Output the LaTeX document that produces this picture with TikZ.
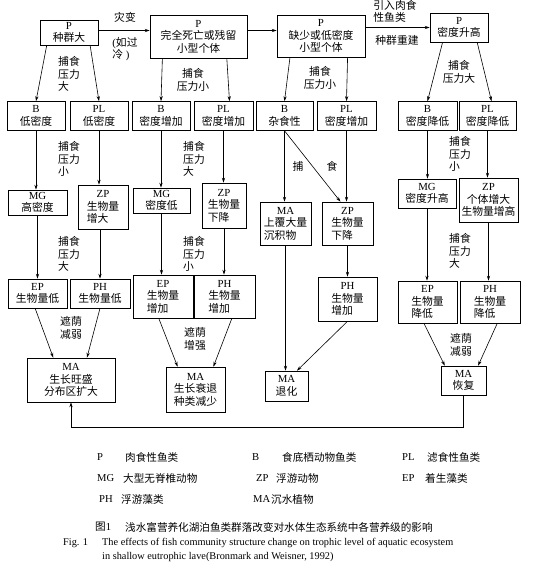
\documentclass[tikz,border=0pt]{standalone}
\usepackage{fontspec}
\setmainfont{Liberation Serif}
\newfontfamily\cjk{Noto Sans CJK SC}
\usetikzlibrary{arrows.meta,positioning,calc}
\newcommand{\zh}[1]{{\cjk #1}}

\begin{document}
\begin{tikzpicture}[
    x=1pt, y=-1pt,
    box/.style={draw, line width=0.6pt, align=center, inner sep=1pt, minimum width=58pt, minimum height=29pt, font=\fontsize{10.8}{12.5}\selectfont},
    lab/.style={align=left, inner sep=0pt, font=\fontsize{10.8}{12.5}\selectfont},
    keytext/.style={anchor=west, inner sep=0pt, font=\fontsize{10.6}{12.5}\selectfont},
    arrow/.style={-{Stealth[length=5pt,width=3.2pt]}, line width=0.6pt}
]
\useasboundingbox (0,0) rectangle (535,565);

\node[box, minimum height=25pt] (pa) at (69,32.5) {P\\\zh{种群大}};
\node[box, minimum width=97pt, minimum height=43pt] (pb) at (198.5,36.5) {P\\\zh{完全死亡或残留}\\\zh{小型个体}};
\node[box, minimum width=88pt, minimum height=42pt] (pc) at (321,36) {P\\\zh{缺少或低密度}\\\zh{小型个体}};
\node[box] (pd) at (459,27.5) {P\\\zh{密度升高}};

\node[box] (ba) at (36,116) {B\\\zh{低密度}};
\node[box] (la) at (99,116) {PL\\\zh{低密度}};
\node[box] (bb) at (161,116) {B\\\zh{密度增加}};
\node[box, minimum width=59pt] (lb) at (223.5,116) {PL\\\zh{密度增加}};
\node[box, minimum width=57pt] (bc) at (284.5,116) {B\\\zh{杂食性}};
\node[box, minimum width=59pt] (lc) at (346.5,116) {PL\\\zh{密度增加}};
\node[box, minimum width=59pt] (bd) at (427.5,116) {B\\\zh{密度降低}};
\node[box, minimum width=57pt] (ld) at (487.5,116) {PL\\\zh{密度降低}};

\node[box, minimum width=59pt, minimum height=25pt] (ma) at (37.5,202.5) {MG\\\zh{高密度}};
\node[box, minimum width=50pt, minimum height=44pt] (za) at (103,207) {ZP\\\zh{生物量}\\\zh{增大\hphantom{量}}};
\node[box, minimum width=57pt, minimum height=25pt] (mb) at (161.5,200.5) {MG\\\zh{密度低}};
\node[box, minimum width=44pt, minimum height=45pt] (zb) at (224,205.5) {ZP\\\zh{生物量}\\\zh{下降\hphantom{量}}};
\node[box, minimum width=51pt, minimum height=43pt] (sc) at (285.5,223.5) {MA\\\zh{上覆大量}\\\zh{沉积物\hphantom{量}}};
\node[box, minimum width=51pt, minimum height=43pt] (zc) at (347.5,223.5) {ZP\\\zh{生物量}\\\zh{下降\hphantom{量}}};
\node[box] (md) at (427,193.5) {MG\\\zh{密度升高}};
\node[box, minimum width=59pt, minimum height=44pt] (zd) at (488.5,200) {ZP\\\zh{个体增大}\\\zh{生物量增高}};

\node[box, minimum width=59pt] (ea) at (37.5,293.5) {EP\\\zh{生物量低}};
\node[box, minimum width=60pt] (ha) at (100,293.5) {PH\\\zh{生物量低}};
\node[box, minimum width=60pt, minimum height=43pt] (eb) at (163,296.5) {EP\\\zh{生物量}\\\zh{增加\hphantom{量}}};
\node[box, minimum width=61pt, minimum height=43pt] (hb) at (224.5,296.5) {PH\\\zh{生物量}\\\zh{增加\hphantom{量}}};
\node[box, minimum width=59pt, minimum height=44pt] (hc) at (347.5,299) {PH\\\zh{生物量}\\\zh{增加\hphantom{量}}};
\node[box, minimum width=59pt, minimum height=42pt] (ed) at (427.5,302) {EP\\\zh{生物量}\\\zh{降低\hphantom{量}}};
\node[box, minimum width=60pt, minimum height=42pt] (hd) at (490,302) {PH\\\zh{生物量}\\\zh{降低\hphantom{量}}};

\node[box, minimum width=88pt, minimum height=44pt] (ga) at (71,380) {MA\\\zh{生长旺盛}\\\zh{分布区扩大}};
\node[box, minimum width=59pt, minimum height=45pt] (gb) at (195.5,389.5) {MA\\\zh{生长衰退}\\\zh{种类减少}};
\node[box, minimum width=43pt, minimum height=30pt] (gc) at (286.5,386) {MA\\\zh{退化}};
\node[box, minimum width=45pt, minimum height=29pt] (gd) at (463.5,380.5) {MA\\\zh{恢复}};

\node[lab] (t1) at (125,17) {\zh{灾变}};
\node[lab] (t2) at (125,49) {(\zh{如过}\\\zh{冷} )};
\node[lab] (t3) at (395,11.5) {\zh{引入肉食}\\\zh{性鱼类}};
\node[lab] (t4) at (397,40) {\zh{种群重建}};
\node[lab] (c1) at (69,74) {\zh{捕食}\\\zh{压力}\\\zh{大}};
\node[lab, align=center] (c2) at (193,80) {\zh{捕食}\\\zh{压力小}};
\node[lab, align=center] (c3) at (320,78) {\zh{捕食}\\\zh{压力小}};
\node[lab, align=center] (c4) at (459,72) {\zh{捕食}\\\zh{压力大}};
\node[lab] (d1) at (69,159) {\zh{捕食}\\\zh{压力}\\\zh{小}};
\node[lab] (d2) at (194,159) {\zh{捕食}\\\zh{压力}\\\zh{大}};
\node[lab] (d3) at (298,166) {\zh{捕}};
\node[lab] (d4) at (332,166) {\zh{食}};
\node[lab] (d5) at (460,154) {\zh{捕食}\\\zh{压力}\\\zh{小}};
\node[lab] (e1) at (69,254) {\zh{捕食}\\\zh{压力}\\\zh{大}};
\node[lab] (e2) at (194,254) {\zh{捕食}\\\zh{压力}\\\zh{小}};
\node[lab] (e3) at (460,251) {\zh{捕食}\\\zh{压力}\\\zh{大}};
\node[lab] (f1) at (71,328) {\zh{遮荫}\\\zh{减弱}};
\node[lab] (f2) at (195,339) {\zh{遮荫}\\\zh{增强}};
\node[lab] (f3) at (461,345) {\zh{遮荫}\\\zh{减弱}};

\draw[arrow] ([yshift=2pt]pa.east) -- ([yshift=2pt]pa.east -| pb.west);
\draw[arrow] ([yshift=6pt]pb.east) -- ([yshift=6pt]pb.east -| pc.west);
\draw[arrow] (pd.west -| pc.east) -- (pd.west);

\draw[arrow] ($(pa.south west)!0.12!(pa.south east)$) -- (ba.north);
\draw[arrow] ($(pa.south west)!0.86!(pa.south east)$) -- (la.north);
\draw[arrow] ($(pb.south west)!0.13!(pb.south east)$) -- (bb.north);
\draw[arrow] ($(pb.south west)!0.79!(pb.south east)$) -- ($(lb.north)+(6,0)$);
\draw[arrow] ($(pc.south west)!0.15!(pc.south east)$) -- (bc.north);
\draw[arrow] ($(pc.south west)!0.8!(pc.south east)$) -- (lc.north);
\draw[arrow] ($(pd.south west)!0.22!(pd.south east)$) -- (bd.north);
\draw[arrow] ($(pd.south west)!0.81!(pd.south east)$) -- ($(ld.north)+(4,0)$);

\draw[arrow] (ba.south) -- (ba.south |- ma.north);
\draw[arrow] (la.south) -- (la.south |- za.north);
\draw[arrow] (bb.south) -- (bb.south |- mb.north);
\draw[arrow] (lb.south) -- (lb.south |- zb.north);
\draw[arrow] (bc.south) -- (bc.south |- sc.north);
\draw[arrow] (bc.south) -- ($(zc.north)+(-7,0)$);
\draw[arrow] (lc.south) -- (lc.south |- zc.north);
\draw[arrow] (bd.south) -- (bd.south |- md.north);
\draw[arrow] (ld.south) -- (ld.south |- zd.north);

\draw[arrow] (ma.south) -- (ma.south |- ea.north);
\draw[arrow] (za.south -| ha.north) -- (ha.north);
\draw[arrow] (mb.south) -- (mb.south |- eb.north);
\draw[arrow] (zb.south) -- (zb.south |- hb.north);
\draw[arrow] (zc.south) -- (zc.south |- hc.north);
\draw[arrow] (sc.south) -- (sc.south |- gc.north);
\draw[arrow] (md.south) -- (md.south |- ed.north);
\draw[arrow] (zd.south) -- (zd.south |- hd.north);

\draw[arrow] ($(ea.south west)!0.46!(ea.south east)$) -- ($(ga.north west)!0.3!(ga.north east)$);
\draw[arrow] (ha.south) -- ($(ga.north west)!0.68!(ga.north east)$);
\draw[arrow] ($(eb.south west)!0.43!(eb.south east)$) -- ($(gb.north west)!0.2!(gb.north east)$);
\draw[arrow] ($(hb.south west)!0.62!(hb.south east)$) -- ($(gb.north west)!0.8!(gb.north east)$);
\draw[arrow] (hc.south) -- ($(gc.north west)!0.74!(gc.north east)$);
\draw[arrow] ($(ed.south west)!0.44!(ed.south east)$) -- ($(gd.north west)!0.09!(gd.north east)$);
\draw[arrow] ($(hd.south west)!0.62!(hd.south east)$) -- ($(gd.north west)!0.82!(gd.north east)$);

\draw[arrow] (gd.south) -- ++(0,32) -| (ga.south);

\node[keytext] (kp) at (97,457) {P};
\node[keytext] (kpt) at (125,457) {\zh{肉食性鱼类}};
\node[keytext] (kb) at (252,457) {B};
\node[keytext] (kbt) at (282,457) {\zh{食底栖动物鱼类}};
\node[keytext] (kl) at (402,457) {PL};
\node[keytext] (klt) at (427,457) {\zh{滤食性鱼类}};
\node[keytext] (km) at (97,478) {MG};
\node[keytext] (kmt) at (123,478) {\zh{大型无脊椎动物}};
\node[keytext] (kz) at (256,478) {ZP};
\node[keytext] (kzt) at (276,478) {\zh{浮游动物}};
\node[keytext] (ke) at (402,478) {EP};
\node[keytext] (ket) at (425,478) {\zh{着生藻类}};
\node[keytext] (kh) at (99,499) {PH};
\node[keytext] (kht) at (121,499) {\zh{浮游藻类}};
\node[keytext] (ka) at (253,499) {MA};
\node[keytext] (kat) at (271,499) {\zh{沉水植物}};

\node[keytext] (cap1) at (95,527) {\zh{图}1};
\node[keytext] (cap2) at (125,527) {\zh{浅水富营养化湖泊鱼类群落改变对水体生态系统中各营养级的影响}};
\node[keytext, font=\fontsize{10.3}{12}\selectfont] (cap3) at (63,543) {Fig. 1};
\node[keytext, font=\fontsize{10.3}{12}\selectfont] (cap4) at (102,543) {The effects of fish community structure change on trophic level of aquatic ecosystem};
\node[keytext, font=\fontsize{10.3}{12}\selectfont] (cap5) at (102,557) {in shallow eutrophic lave(Bronmark and Weisner, 1992)};
\end{tikzpicture}
\end{document}
